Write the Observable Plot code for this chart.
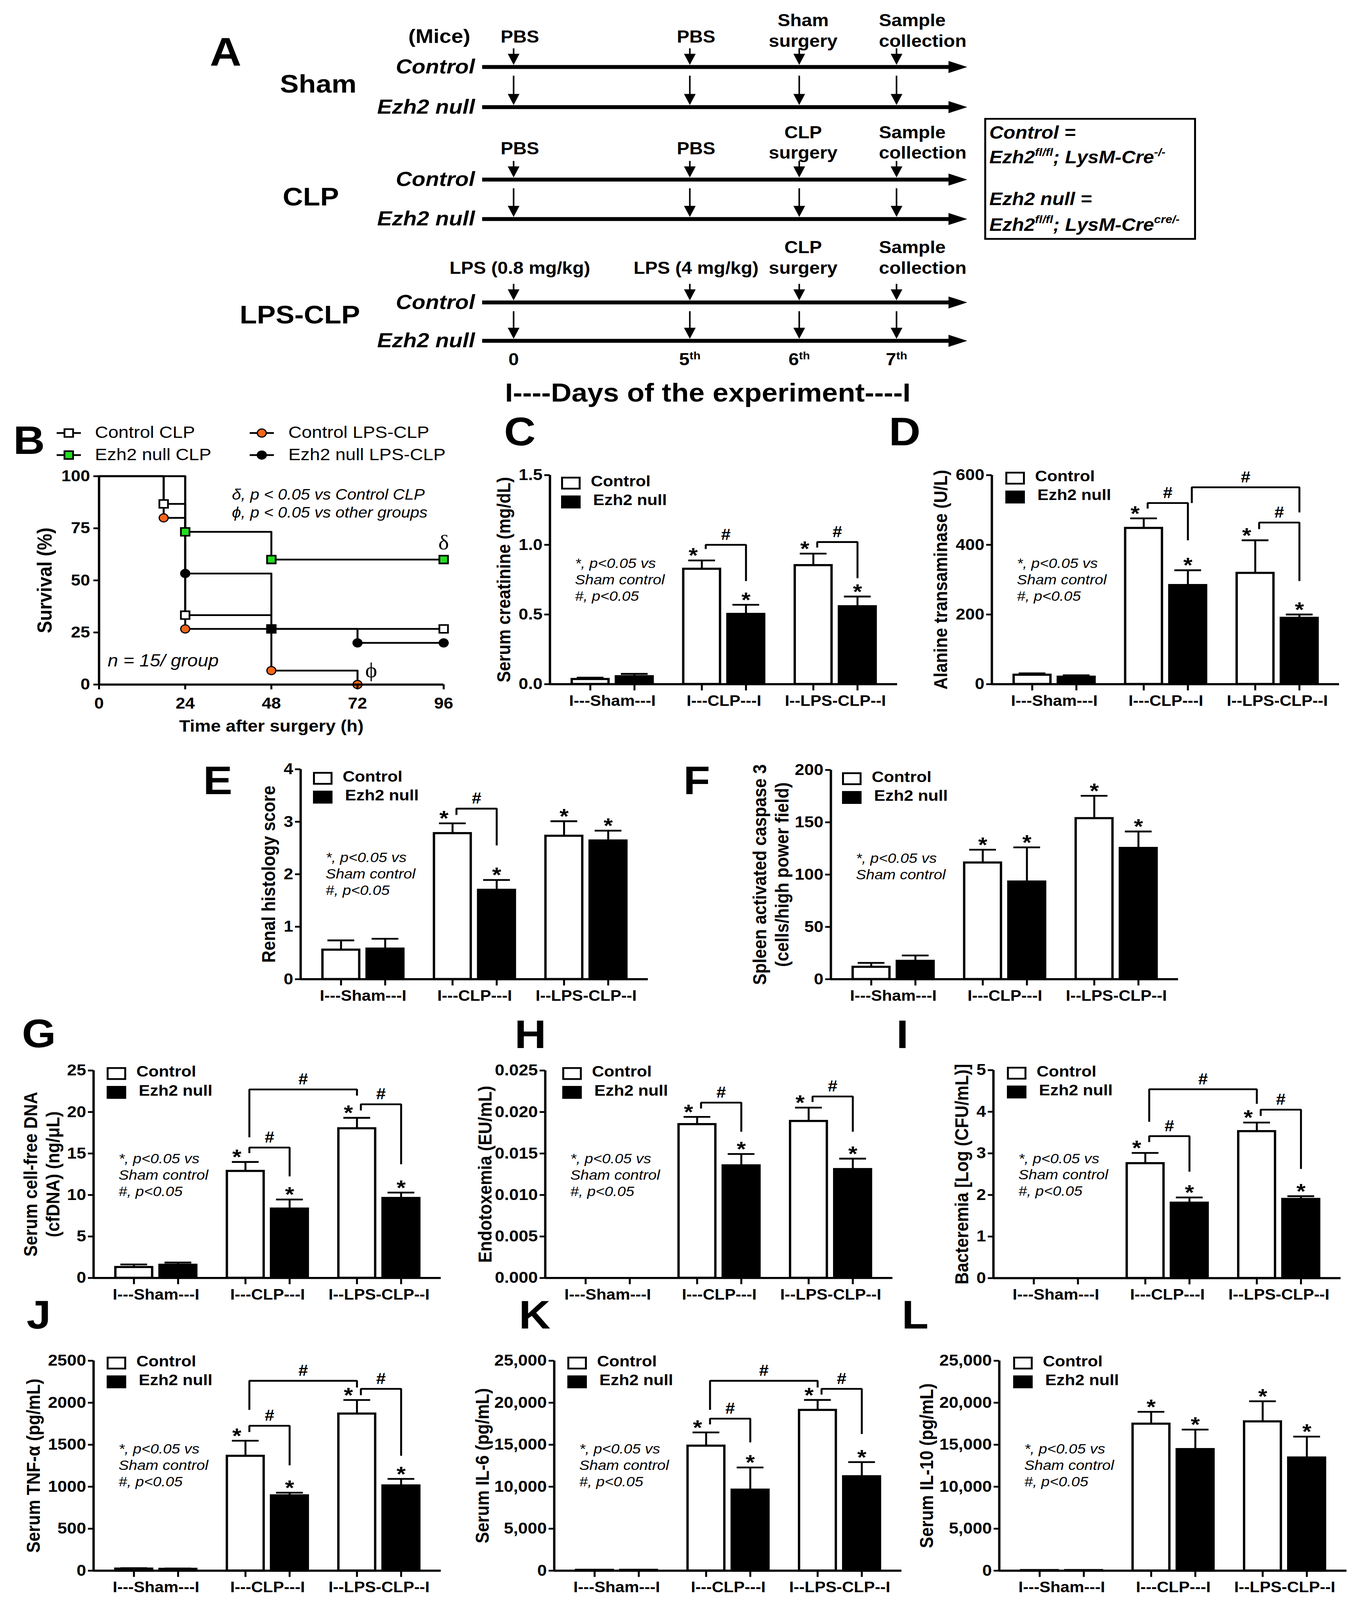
<!DOCTYPE html>
<html>
<head>
<meta charset="utf-8">
<script src="https://cdn.jsdelivr.net/npm/d3@7"></script>
<script src="https://cdn.jsdelivr.net/npm/@observablehq/plot@0.6"></script>
<style>
  html, body { margin: 0; padding: 0; background: white; overflow: hidden; }
  #fig { position: relative; width: 3473px; height: 4504px; background: white; overflow: hidden;
         font-family: "Liberation Sans", Arial, Helvetica, sans-serif; color: black; transform-origin: 0 0; }
  #fig svg { max-width: none !important; }
</style>
</head>
<body>
<div id="fig"></div>
<script>
// ---------------- DATA ----------------
// Panel A (timeline)
const rowNames = ["Control", "Ezh2 null"];
const eventDays = [0, 5, 6, 7];
const dayLabels = ["0", "5^{th}", "6^{th}", "7^{th}"];
const shamEvents = ["PBS", "PBS", "Sham\nsurgery", "Sample\ncollection"];
const clpEvents = ["PBS", "PBS", "CLP\nsurgery", "Sample\ncollection"];
const lpsEvents = ["LPS (0.8 mg/kg)", "LPS (4 mg/kg)", "CLP\nsurgery", "Sample\ncollection"];
const daysTitle = "I----Days of the experiment----I";

// Panel B (survival, %)
const ctrlCLPTime = [0, 18, 24, 48, 96];
const ctrlCLPSurv = [100, 86.7, 33.3, 26.7, 26.7];
const ezhCLPTime = [0, 24, 48, 96];
const ezhCLPSurv = [100, 73.3, 60, 60];
const ctrlLPSTime = [0, 18, 24, 48, 72];
const ctrlLPSSurv = [100, 80, 26.7, 6.7, 0];
const ezhLPSTime = [0, 24, 48, 72, 96];
const ezhLPSSurv = [100, 53.3, 26.7, 20, 20];
const survivalNames = ["Control CLP", "Ezh2 null CLP", "Control LPS-CLP", "Ezh2 null LPS-CLP"];
const survivalNote = "δ, p < 0.05 vs Control CLP\nϕ, p < 0.05 vs other groups";

// Bar panels
const groups = ["I---Sham---I", "I---CLP---I", "I--LPS-CLP--I"];
const genotypes = ["Control", "Ezh2 null"];
const significantVsSham = [false, true, true];
const NOTE3 = "*, p<0.05 vs\nSham control\n#, p<0.05";
const NOTE2 = "*, p<0.05 vs\nSham control";

const creatinineControl = [0.036, 0.827, 0.853];
const creatinineControlSem = [0.011, 0.061, 0.084];
const creatinineEzh2 = [0.056, 0.503, 0.558];
const creatinineEzh2Sem = [0.018, 0.067, 0.071];
const creatinineBrackets = [
  {from: [1, 0], to: [1, 1], top: 1.00, left: 0.97, right: 0.74},
  {from: [2, 0], to: [2, 1], top: 1.02, left: 0.98, right: 0.76}
];

const altControl = [26.7, 448, 319];
const altControlSem = [4.3, 28, 94];
const altEzh2 = [21, 284, 190];
const altEzh2Sem = [4.6, 43, 10];
const altBrackets = [
  {from: [1, 0], to: [1, 1], top: 520, left: 504, right: 413},
  {from: [1, 1], to: [2, 1], top: 565, left: 520, right: 493},
  {from: [2, 0], to: [2, 1], top: 464, left: 445, right: 296}
];

const renalControl = [0.56, 2.78, 2.73];
const renalControlSem = [0.18, 0.19, 0.28];
const renalEzh2 = [0.58, 1.70, 2.64];
const renalEzh2Sem = [0.19, 0.19, 0.19];
const renalBrackets = [
  {from: [1, 0], to: [1, 1], top: 3.25, left: 3.13, right: 2.55}
];

const caspaseControl = [11.7, 111.4, 153.8];
const caspaseControlSem = [3.9, 12.4, 21.5];
const caspaseEzh2 = [17.4, 93.2, 125.3];
const caspaseEzh2Sem = [5.3, 32.8, 15.9];
const caspaseBrackets = [];

const cfdnaControl = [1.30, 12.88, 18.02];
const cfdnaControlSem = [0.33, 1.10, 1.28];
const cfdnaEzh2 = [1.57, 8.34, 9.62];
const cfdnaEzh2Sem = [0.29, 1.12, 0.67];
const cfdnaBrackets = [
  {from: [1, 0], to: [1, 1], top: 15.72, left: 15.05, right: 12.25},
  {from: [1, 0], to: [2, 0], top: 22.72, left: 16.95, right: 21.98},
  {from: [2, 0], to: [2, 1], top: 20.93, left: 20.19, right: 13.7}
];

const endoControl = [null, 0.01852, 0.01890];
const endoControlSem = [null, 0.00089, 0.00163];
const endoEzh2 = [null, 0.01355, 0.01310];
const endoEzh2Sem = [null, 0.00139, 0.00128];
const endoBrackets = [
  {from: [1, 0], to: [1, 1], top: 0.02113, left: 0.02042, right: 0.01762},
  {from: [2, 0], to: [2, 1], top: 0.02187, left: 0.0212, right: 0.01762}
];

const bactControl = [null, 2.76, 3.53];
const bactControlSem = [null, 0.25, 0.21];
const bactEzh2 = [null, 1.81, 1.90];
const bactEzh2Sem = [null, 0.13, 0.07];
const bactBrackets = [
  {from: [1, 0], to: [1, 1], top: 3.415, left: 3.27, right: 2.56},
  {from: [1, 0], to: [2, 0], top: 4.54, left: 3.76, right: 4.19},
  {from: [2, 0], to: [2, 1], top: 4.05, left: 3.90, right: 2.625}
];

const tnfControl = [23, 1366, 1869];
const tnfControlSem = [7, 182, 164];
const tnfEzh2 = [20, 895, 1013];
const tnfEzh2Sem = [7, 34, 80];
const tnfBrackets = [
  {from: [1, 0], to: [1, 1], top: 1726, left: 1651, right: 1255},
  {from: [1, 0], to: [2, 0], top: 2261, left: 1915, right: 2181},
  {from: [2, 0], to: [2, 1], top: 2165, left: 2090, right: 1368}
];

const il6Control = [80, 14868, 19126];
const il6ControlSem = [30, 1594, 1206];
const il6Ezh2 = [80, 9631, 11225];
const il6Ezh2Sem = [30, 2664, 1708];
const il6Brackets = [
  {from: [1, 0], to: [1, 1], top: 18101, left: 17418, right: 15278},
  {from: [1, 0], to: [2, 0], top: 22610, left: 19148, right: 21812},
  {from: [2, 0], to: [2, 1], top: 21653, left: 20970, right: 16280}
];

const il10Control = [50, 17486, 17760];
const il10ControlSem = [20, 1434, 2413];
const il10Ezh2 = [50, 14458, 13456];
const il10Ezh2Sem = [20, 2345, 2505];
const il10Brackets = [];

// ---------------- HELPERS ----------------
const FONT = "'Liberation Sans', Arial, Helvetica, sans-serif";
const PSTYLE = `background: transparent; overflow: visible; max-width: none; font-family: ${FONT};`;
const FIG = document.getElementById("fig");

function put(el, x, y) {
  el.style.position = "absolute";
  el.style.left = x + "px";
  el.style.top = y + "px";
  FIG.appendChild(el);
  return el;
}
function supify(root) {
  root.querySelectorAll("text, tspan").forEach(el => {
    if (el.querySelector("tspan")) return;
    const s = el.textContent;
    if (!s.includes("^{")) return;
    el.textContent = "";
    const re = /\^\{([^}]*)\}/g; let last = 0, m;
    while ((m = re.exec(s))) {
      if (m.index > last) el.appendChild(document.createTextNode(s.slice(last, m.index)));
      const t = document.createElementNS("http://www.w3.org/2000/svg", "tspan");
      t.setAttribute("baseline-shift", "super");
      t.setAttribute("font-size", "62%");
      t.textContent = m[1];
      el.appendChild(t);
      last = re.lastIndex;
    }
    if (last < s.length) el.appendChild(document.createTextNode(s.slice(last)));
  });
}
function letter(t, x, capTop) {
  const d = document.createElement("div");
  d.textContent = t;
  d.style.cssText = `font: bold 112px ${FONT}; line-height: 112px; white-space: nowrap;`;
  put(d, x, capTop - 15);
}
function htmlText(html, x, cy, css) {
  const d = document.createElement("div");
  d.innerHTML = html;
  d.style.cssText = `line-height: 60px; white-space: nowrap; ${css}`;
  put(d, x, cy - 30);
}

// Custom arrow-head symbols
const headDown = {draw(ctx) { ctx.moveTo(-15, 0); ctx.lineTo(15, 0); ctx.lineTo(0, 31); ctx.closePath(); }};
const headRight = {draw(ctx) { ctx.moveTo(0, -17); ctx.lineTo(48, 0); ctx.lineTo(0, 17); ctx.closePath(); }};

// ---------------- PANEL A ----------------
function timelineBlock(b) {
  const SL = 640, frameL = 1234, frameR = 2440, svgW = 1860;
  const MT = b.ctrlY - b.svgTop, gap = b.ezhY - b.ctrlY;
  const events = b.labels.map((label, i) => ({day: eventDays[i], label, dayLabel: dayLabels[i]}));
  const bold = {fontWeight: "bold"};
  const single = events.slice(0, 3).filter(d => !d.label.includes("\n"));
  const double = events.slice(0, 3).filter(d => d.label.includes("\n"));
  const marks = [
    Plot.ruleY(rowNames, {y: d => d, strokeWidth: 11}),
    Plot.dot(rowNames, {y: d => d, frameAnchor: "right", symbol: headRight, fill: "black", stroke: null, dx: -13}),
    Plot.ruleX(events, {x: "day", y1: () => rowNames[0], y2: () => rowNames[0], insetTop: -52, insetBottom: 34, strokeWidth: 4}),
    Plot.dot(events, {x: "day", y: () => rowNames[0], symbol: headDown, fill: "black", stroke: null, dy: -37}),
    Plot.ruleX(events, {x: "day", y1: () => rowNames[0], y2: () => rowNames[1], insetTop: 25, insetBottom: 34, strokeWidth: 4}),
    Plot.dot(events, {x: "day", y: () => rowNames[1], symbol: headDown, fill: "black", stroke: null, dy: -37}),
    Plot.text(single, {x: "day", y: () => rowNames[0], text: "label", dx: 16, dy: b.labelDy + b.singleDy,
      textAnchor: "middle", lineAnchor: "bottom", lineHeight: 1.2, fontSize: 48, ...bold}),
    Plot.text(double, {x: "day", y: () => rowNames[0], text: "label", dx: 10, dy: b.labelDy,
      textAnchor: "middle", lineAnchor: "bottom", lineHeight: 1.2, fontSize: 48, ...bold}),
    Plot.text(events.slice(3), {x: "day", y: () => rowNames[0], text: "label", dx: -45, dy: b.labelDy,
      textAnchor: "start", lineAnchor: "bottom", lineHeight: 1.2, fontSize: 48, ...bold}),
    Plot.text(rowNames, {y: d => d, frameAnchor: "left", text: d => d, dx: -19, textAnchor: "end", lineAnchor: "middle",
      fontSize: 57, fontWeight: "bold", fontStyle: "italic"}),
    Plot.text([b.name], {frameAnchor: "left", text: d => d, dx: b.nameX - frameL, dy: b.nameDy,
      textAnchor: "middle", lineAnchor: "middle", fontSize: 72, ...bold})
  ];
  if (b.mice) marks.push(Plot.text(["(Mice)"], {frameAnchor: "top-left", text: d => d, dx: -110, dy: -85,
      textAnchor: "middle", lineAnchor: "middle", fontSize: 55, ...bold}));
  if (b.days) {
    marks.push(Plot.text(events, {x: "day", frameAnchor: "bottom", text: "dayLabel", dy: 53, textAnchor: "middle",
      lineAnchor: "middle", fontSize: 48, ...bold}));
    marks.push(Plot.text([daysTitle], {frameAnchor: "bottom", text: d => d, dx: -26, dy: 148, textAnchor: "middle",
      lineAnchor: "middle", fontSize: 73, ...bold}));
  }
  const svg = Plot.plot({
    width: svgW, height: MT + gap + b.mb,
    marginLeft: frameL - SL, marginRight: SL + svgW - frameR, marginTop: MT, marginBottom: b.mb,
    style: PSTYLE,
    x: {type: "linear", domain: eventDays, range: [1314 - SL, 1765 - SL, 2045 - SL, 2294 - SL], axis: null},
    y: {type: "point", domain: rowNames, padding: 0, axis: null},
    marks
  });
  supify(svg);
  put(svg, SL, b.svgTop);
}
timelineBlock({name: "Sham", labels: shamEvents, ctrlY: 188, ezhY: 301, svgTop: 10, mb: 40, labelDy: -57, singleDy: -12, nameX: 814, nameDy: -7, mice: true});
timelineBlock({name: "CLP", labels: clpEvents, ctrlY: 505, ezhY: 616, svgTop: 330, mb: 40, labelDy: -59, singleDy: -12, nameX: 795, nameDy: -6});
timelineBlock({name: "LPS-CLP", labels: lpsEvents, ctrlY: 851, ezhY: 959, svgTop: 650, mb: 200, labelDy: -81, singleDy: 0, nameX: 767, nameDy: -18, days: true});

// Legend box for A
(function () {
  const box = document.createElement("div");
  box.style.cssText = "width: 542px; height: 343px; box-sizing: border-box; border: 5px solid black;";
  put(box, 2519, 332);
  const css = `font: italic bold 50px ${FONT};`;
  const sup = s => `<sup style="font-size:62%; vertical-align: 0.7em; line-height:0">${s}</sup>`;
  htmlText(`${rowNames[0]} =`, 2532, 374, css);
  htmlText(`Ezh2${sup("fl/fl")}; LysM-Cre${sup("-/-")}`, 2532, 444, css);
  htmlText(`${rowNames[1]} =`, 2532, 561, css);
  htmlText(`Ezh2${sup("fl/fl")}; LysM-Cre${sup("cre/-")}`, 2532, 634, css);
})();

// ---------------- PANEL B ----------------
const survivalSeries = [
  {name: survivalNames[0], time: ctrlCLPTime, surv: ctrlCLPSurv, symbol: "square", fill: "white"},
  {name: survivalNames[1], time: ezhCLPTime, surv: ezhCLPSurv, symbol: "square", fill: "#22dd22"},
  {name: survivalNames[2], time: ctrlLPSTime, surv: ctrlLPSSurv, symbol: "circle", fill: "#f4661b"},
  {name: survivalNames[3], time: ezhLPSTime, surv: ezhLPSSurv, symbol: "circle", fill: "black"}
];
(function () {
  const ML = 253, MR = 60, MT = 40, MB = 150, fw = 882, fh = 586.5;
  const rows = survivalSeries.flatMap(s => s.time.map((t, i) => ({name: s.name, t, s: s.surv[i]})));
  const bold = {fontWeight: "bold"};
  const svg = Plot.plot({
    width: ML + fw + MR, height: MT + fh + MB,
    marginLeft: ML, marginRight: MR, marginTop: MT, marginBottom: MB,
    style: PSTYLE,
    x: {domain: [0, 96]}, y: {domain: [0, 100]},
    marks: [
      Plot.line(rows, {x: "t", y: "s", z: "name", curve: "step-after", stroke: "black", strokeWidth: 5}),
      ...survivalSeries.map(s => Plot.dot(rows.filter(d => d.name === s.name && d.t > 0), {
        x: "t", y: "s", symbol: s.symbol, r: s.symbol === "square" ? 12.4 : 11.5,
        fill: s.fill, stroke: "black", strokeWidth: s.symbol === "square" ? 4.5 : 3})),
      Plot.ruleX([0], {strokeWidth: 6}),
      Plot.ruleY([0], {strokeWidth: 6}),
      Plot.axisX({ticks: [0, 24, 48, 72, 96], tickSize: 14, tickPadding: 22, fontSize: 44, strokeWidth: 5, label: null, ...bold}),
      Plot.axisY({ticks: [0, 25, 50, 75, 100], tickSize: 14, tickPadding: 9, fontSize: 44, strokeWidth: 5, label: null, ...bold}),
      Plot.text(["Time after surgery (h)"], {frameAnchor: "bottom", text: d => d, dy: 118, textAnchor: "middle", lineAnchor: "middle", fontSize: 46, ...bold}),
      Plot.text(["Survival (%)"], {frameAnchor: "left", text: d => d, rotate: -90, dx: -138, textAnchor: "middle", lineAnchor: "middle", fontSize: 52, ...bold}),
      Plot.text([survivalNote], {frameAnchor: "top-left", text: d => d, dx: 340, dy: 30, fontSize: 42, fontStyle: "italic", lineHeight: 1.21}),
      Plot.text(["n = 15/ group"], {frameAnchor: "bottom-left", text: d => d, dx: 22, dy: -66, lineAnchor: "middle", fontSize: 48, fontStyle: "italic"}),
      Plot.text([{t: 96, s: 60}], {x: "t", y: "s", text: () => "δ", dy: -48, lineAnchor: "middle", fontSize: 58, fontFamily: "'Liberation Serif', serif"}),
      Plot.text([{t: 72, s: 0}], {x: "t", y: "s", text: () => "ϕ", dx: 35, dy: -40, lineAnchor: "middle", fontSize: 58, fontFamily: "'Liberation Serif', serif"})
    ]
  });
  put(svg, 0, 1340 - MT);
  // legend
  const cols = [{ix: 145, tx: 243}, {ix: 639, tx: 738}];
  const rowsY = [1219, 1281];
  survivalSeries.forEach((s, i) => {
    const col = cols[Math.floor(i / 2)], y = rowsY[i % 2];
    const mark = s.symbol === "square"
      ? `<rect x="20" y="9" width="22" height="22" fill="${s.fill}" stroke="black" stroke-width="4.5"/>`
      : `<circle cx="31" cy="20" r="11.5" fill="${s.fill}" stroke="black" stroke-width="3"/>`;
    const icon = document.createElement("div");
    icon.innerHTML = `<svg width="62" height="40" style="display:block"><line x1="0" x2="62" y1="20" y2="20" stroke="black" stroke-width="5"/>${mark}</svg>`;
    put(icon, col.ix, y - 20);
    htmlText(s.name, col.tx, y, `font: 47px ${FONT};`);
  });
})();

// ---------------- BAR PANELS ----------------
function barPanel(p) {
  const ML = 245, MR = 30, MT = 70, MB = 100, fw = 889;
  const fh = p.bottom - p.top;
  const xd = [-0.56, 2.555];
  const pos = (g, k) => g + (k ? 0.198 : -0.198);
  const bars = [];
  groups.forEach((name, g) => {
    [[p.ctrl, p.ctrlSem], [p.ezh, p.ezhSem]].forEach(([v, s], k) => {
      if (v[g] == null) return;
      bars.push({g, k, c: pos(g, k), value: v[g], top: v[g] + s[g]});
    });
  });
  const tickPos = [0, 1, 2].flatMap(g => [pos(g, 0), pos(g, 1)]);
  const br = p.brackets.map(b => ({...b, x1: pos(...b.from) + 0.035, x2: pos(...b.to)}));
  const brPts = br.flatMap((b, i) => [
    {i, x: b.x1, y: b.left}, {i, x: b.x1, y: b.top}, {i, x: b.x2, y: b.top}, {i, x: b.x2, y: b.right}]);
  const stars = bars.filter(d => significantVsSham[d.g]).map(d => ({
    ...d, shift: d.k === 0 && p.brackets.some(b => b.from[0] === d.g && b.from[1] === d.k)}));
  const bold = {fontWeight: "bold"};
  const svg = Plot.plot({
    width: ML + fw + MR, height: MT + fh + MB,
    marginLeft: ML, marginRight: MR, marginTop: MT, marginBottom: MB,
    style: PSTYLE,
    x: {domain: xd},
    y: {domain: p.domain},
    marks: [
      Plot.rect(bars, {x1: d => d.c - 0.165, x2: d => d.c + 0.165, y1: 0, y2: "value",
        fill: d => d.k ? "black" : "white", stroke: "black", strokeWidth: 6}),
      Plot.ruleX(bars, {x: "c", y1: "value", y2: "top", stroke: "black", strokeWidth: 5}),
      Plot.ruleY(bars, {y: "top", x1: d => d.c - 0.12, x2: d => d.c + 0.12, stroke: "black", strokeWidth: 5}),
      Plot.line(brPts, {x: "x", y: "y", z: "i", stroke: "black", strokeWidth: 5, strokeLinejoin: "miter", strokeLinecap: "butt"}),
      Plot.text(br, {x: d => (d.x1 + d.x2) / 2, y: "top", text: () => "#", dy: -28, lineAnchor: "middle", fontSize: 44, ...bold}),
      Plot.text(stars, {x: d => d.c - (d.shift ? 0.077 : 0), y: "top", text: () => "*", dy: -13, lineAnchor: "middle", fontSize: 60, ...bold}),
      Plot.ruleX([xd[0]], {strokeWidth: 6}),
      Plot.ruleY([0], {strokeWidth: 6}),
      Plot.axisY({ticks: p.ticks, tickFormat: d3.format(p.fmt), tickSize: 14, tickPadding: 5, fontSize: 44, strokeWidth: 5, label: null, ...bold}),
      Plot.axisX({ticks: tickPos, tickFormat: () => "", tickSize: 18, strokeWidth: 5, label: null}),
      Plot.axisX({ticks: [0, 1, 2], tickFormat: i => groups[i], tickSize: 0, tickPadding: 31, fontSize: 42, label: null, ...bold}),
      Plot.text([p.ylabel], {frameAnchor: "left", text: d => d, rotate: -90, dx: -p.labelOffset, textAnchor: "middle",
        lineAnchor: "middle", lineHeight: 1.18, fontSize: 48, ...bold}),
      Plot.text([p.note], {frameAnchor: "top-left", text: d => d, dx: 64, dy: 229, lineHeight: 1.18, fontSize: 39, fontStyle: "italic"})
    ]
  });
  put(svg, p.axisX - ML, p.top - MT);
  // legend
  const lx = p.axisX + p.legend[0], ly = p.top + p.legend[1];
  [["white", genotypes[0], 76], ["black", genotypes[1], 82]].forEach(([fill, label, tx], i) => {
    const sw = document.createElement("div");
    sw.style.cssText = `width: 50px; height: 36px; box-sizing: border-box; border: 5px solid black; background: ${fill};`;
    put(sw, lx, ly + i * 53);
    htmlText(label, lx + tx, ly + i * 53 + 18, `font: bold 43px ${FONT};`);
  });
}

const panels = [
  {axisX: 1407, top: 1337, bottom: 1925.5, domain: [0, 1.5], ticks: [0, 0.5, 1, 1.5], fmt: ".1f",
   ylabel: "Serum creatinine (mg/dL)", labelOffset: 120, legend: [29, 5], note: NOTE3,
   ctrl: creatinineControl, ctrlSem: creatinineControlSem, ezh: creatinineEzh2, ezhSem: creatinineEzh2Sem, brackets: creatinineBrackets},
  {axisX: 2538, top: 1337, bottom: 1925.5, domain: [0, 600], ticks: [0, 200, 400, 600], fmt: "d",
   ylabel: "Alanine transaminase (U/L)", labelOffset: 133, legend: [35, -9], note: NOTE3,
   ctrl: altControl, ctrlSem: altControlSem, ezh: altEzh2, ezhSem: altEzh2Sem, brackets: altBrackets},
  {axisX: 769, top: 2165, bottom: 2756, domain: [0, 4], ticks: [0, 1, 2, 3, 4], fmt: "d",
   ylabel: "Renal histology score", labelOffset: 84, legend: [32, 8], note: NOTE3,
   ctrl: renalControl, ctrlSem: renalControlSem, ezh: renalEzh2, ezhSem: renalEzh2Sem, brackets: renalBrackets},
  {axisX: 2126, top: 2167, bottom: 2756, domain: [0, 200], ticks: [0, 50, 100, 150, 200], fmt: "d",
   ylabel: "Spleen activated caspase 3\n(cells/high power field)", labelOffset: 155, legend: [29, 7], note: NOTE2,
   ctrl: caspaseControl, ctrlSem: caspaseControlSem, ezh: caspaseEzh2, ezhSem: caspaseEzh2Sem, brackets: caspaseBrackets},
  {axisX: 239, top: 3013, bottom: 3597, domain: [0, 25], ticks: [0, 5, 10, 15, 20, 25], fmt: "d",
   ylabel: "Serum cell-free DNA\n(cfDNA) (ng/μL)", labelOffset: 134, legend: [34, -9], note: NOTE3,
   ctrl: cfdnaControl, ctrlSem: cfdnaControlSem, ezh: cfdnaEzh2, ezhSem: cfdnaEzh2Sem, brackets: cfdnaBrackets},
  {axisX: 1395, top: 3013, bottom: 3597, domain: [0, 0.025], ticks: [0, 0.005, 0.01, 0.015, 0.02, 0.025], fmt: ".3f",
   ylabel: "Endotoxemia (EU/mL)", labelOffset: 156, legend: [44, -9], note: NOTE3,
   ctrl: endoControl, ctrlSem: endoControlSem, ezh: endoEzh2, ezhSem: endoEzh2Sem, brackets: endoBrackets},
  {axisX: 2542, top: 3011.5, bottom: 3597, domain: [0, 5], ticks: [0, 1, 2, 3, 4, 5], fmt: "d",
   ylabel: "Bacteremia [Log (CFU/mL)]", labelOffset: 83, legend: [35, -9], note: NOTE3,
   ctrl: bactControl, ctrlSem: bactControlSem, ezh: bactEzh2, ezhSem: bactEzh2Sem, brackets: bactBrackets},
  {axisX: 239, top: 3830, bottom: 4421, domain: [0, 2500], ticks: [0, 500, 1000, 1500, 2000, 2500], fmt: "d",
   ylabel: "Serum TNF-α (pg/mL)", labelOffset: 156, legend: [34, -11], note: NOTE3,
   ctrl: tnfControl, ctrlSem: tnfControlSem, ezh: tnfEzh2, ezhSem: tnfEzh2Sem, brackets: tnfBrackets},
  {axisX: 1418, top: 3830, bottom: 4421, domain: [0, 25000], ticks: [0, 5000, 10000, 15000, 20000, 25000], fmt: ",",
   ylabel: "Serum IL-6 (pg/mL)", labelOffset: 186, legend: [34, -11], note: NOTE3,
   ctrl: il6Control, ctrlSem: il6ControlSem, ezh: il6Ezh2, ezhSem: il6Ezh2Sem, brackets: il6Brackets},
  {axisX: 2557, top: 3830, bottom: 4421, domain: [0, 25000], ticks: [0, 5000, 10000, 15000, 20000, 25000], fmt: ",",
   ylabel: "Serum IL-10 (pg/mL)", labelOffset: 188, legend: [36, -11], note: NOTE3,
   ctrl: il10Control, ctrlSem: il10ControlSem, ezh: il10Ezh2, ezhSem: il10Ezh2Sem, brackets: il10Brackets}
];
panels.forEach(barPanel);

// ---------------- PANEL LETTERS ----------------
letter("A", 537, 106);
letter("B", 34, 1199);
letter("C", 1290, 1175);
letter("D", 2275, 1175);
letter("E", 520, 2156);
letter("F", 1749, 2156);
letter("G", 56, 2869);
letter("H", 1317, 2871);
letter("I", 2294, 2871);
letter("J", 68, 3661);
letter("K", 1328, 3661);
letter("L", 2308, 3661);

// Fit the figure into the visible window so nothing is cut off
function fit() {
  const W = window.innerWidth || 3473, H = window.innerHeight || 4504;
  const sx = Math.min(1, W / 3473), sy = Math.min(1, H / 4504);
  FIG.style.transform = `scale(${sx}, ${sy})`;
}
fit();
window.addEventListener("resize", fit);
</script>
</body>
</html>
